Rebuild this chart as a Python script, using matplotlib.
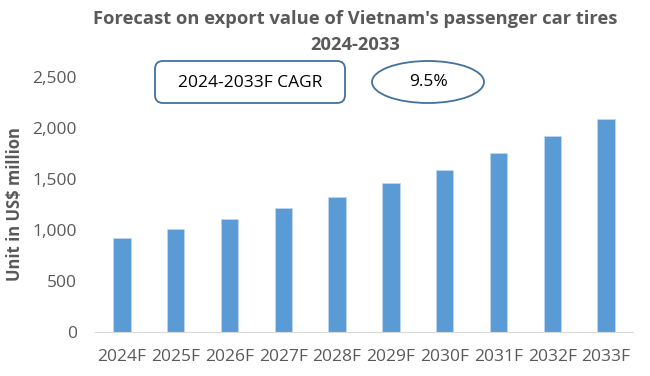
import matplotlib.pyplot as plt
import numpy as np
from matplotlib.patches import FancyBboxPatch, Ellipse

plt.rcParams['font.family'] = ['Open Sans', 'DejaVu Sans']

years = ['2024F', '2025F', '2026F', '2027F', '2028F',
         '2029F', '2030F', '2031F', '2032F', '2033F']
values = [918, 1010, 1105, 1216, 1327, 1458, 1588, 1752, 1918, 2091]
yticks = [0, 500, 1000, 1500, 2000, 2500]

grey = '#595959'
bar_color = '#5B9BD5'
edge_blue = '#41719C'

fig = plt.figure(figsize=(6.5, 3.76), dpi=100)
ax = fig.add_axes([95 / 650, 1 - 332 / 376, 538 / 650, 255 / 376])

x = np.arange(len(years))
ax.bar(x, values, width=0.32, color=bar_color, edgecolor='#BDD7EE', linewidth=0.6)
ax.set_xlim(-0.5, len(years) - 0.5)
ax.set_ylim(0, 2500)
ax.set_xticks(x)
ax.set_xticklabels(years, fontsize=12.5, color=grey)
ax.set_yticks(yticks)
ax.set_yticklabels(['{:,}'.format(v) for v in yticks], fontsize=12.5, color=grey)
ax.tick_params(axis='both', length=0)
ax.tick_params(axis='x', pad=12)
ax.tick_params(axis='y', pad=13)
for s in ['top', 'right', 'left']:
    ax.spines[s].set_visible(False)
ax.spines['bottom'].set_color('#D9D9D9')
ax.set_ylabel('Unit in US$ million', fontsize=12, fontweight='bold', color=grey, labelpad=6)

# overlay in pixel coordinates for title and callouts
ov = fig.add_axes([0, 0, 1, 1])
ov.set_xlim(0, 650)
ov.set_ylim(376, 0)
ov.axis('off')
ov.patch.set_alpha(0)

ov.text(355, 19, "Forecast on export value of Vietnam's passenger car tires",
        ha='center', va='center', fontsize=13.2, fontweight='bold', color=grey)
ov.text(355, 45, '2024-2033', ha='center', va='center',
        fontsize=13.2, fontweight='bold', color=grey)

box = FancyBboxPatch((155, 61), 190, 42, boxstyle='round,pad=0,rounding_size=8',
                     facecolor='white', edgecolor=edge_blue, linewidth=1.3)
ov.add_patch(box)
ov.text(250, 83, '2024-2033F CAGR', ha='center', va='center', fontsize=12.5, color='black')

ell = Ellipse((428, 82), 112, 42, facecolor='white', edgecolor=edge_blue, linewidth=1.3)
ov.add_patch(ell)
ov.text(428, 82, '9.5%', ha='center', va='center', fontsize=12.5, color='black')

fig.savefig('out.png', dpi=100)
